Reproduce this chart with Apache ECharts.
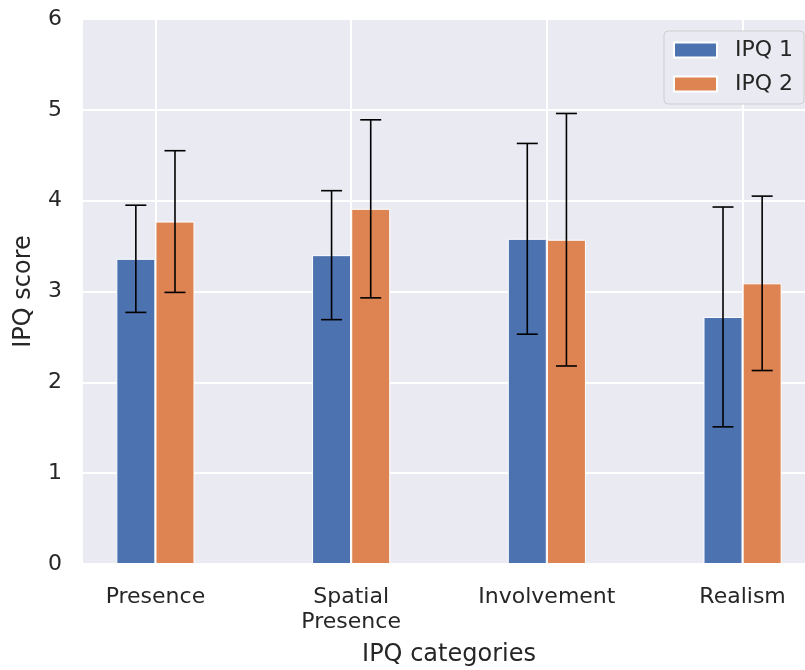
<!DOCTYPE html>
<html><head><meta charset="utf-8">
<script src="https://cdn.jsdelivr.net/npm/echarts@6/dist/echarts.min.js"></script>
<style>html,body{margin:0;padding:0;background:#fff}#c{width:805px;height:670px}</style>
</head><body><div id="c"></div>
<script>
// ---- data ----
const categories = ['Presence', 'Spatial\nPresence', 'Involvement', 'Realism'];
const seriesNames = ['IPQ 1', 'IPQ 2'];
const ipq1Mean = [3.36, 3.40, 3.58, 2.72];
const ipq1Sd   = [0.59, 0.71, 1.05, 1.21];
const ipq2Mean = [3.77, 3.91, 3.57, 3.09];
const ipq2Sd   = [0.78, 0.98, 1.39, 0.96];
const yTicks = [0, 1, 2, 3, 4, 5, 6];

// ---- style ----
const FONT = 'DejaVu Sans';
const TXT = '#262626';
const colors = ['#4C72B0', '#DD8452'];
const offsets = [-0.1, 0.1];
const means = [ipq1Mean, ipq2Mean];
const sds = [ipq1Sd, ipq2Sd];
const catIdx = categories.map((c, i) => i);

const chart = echarts.init(document.getElementById('c'), null, {renderer: 'canvas'});
const series = [];
means.forEach((m, s) => {
  series.push({
    name: seriesNames[s], type: 'bar', barWidth: 39, barGap: '-100%',
    itemStyle: {color: colors[s], borderColor: '#fff', borderWidth: 1},
    data: m.map((v, i) => [i + offsets[s], v]), z: 2, silent: true
  });
});
means.forEach((m, s) => {
  series.push({
    type: 'custom', z: 5, silent: true,
    encode: {x: 0, y: [1, 2]},
    data: m.map((v, i) => [i + offsets[s], v - sds[s][i], v + sds[s][i]]),
    renderItem: (params, api) => {
      const lo = api.coord([api.value(0), api.value(1)]);
      const hi = api.coord([api.value(0), api.value(2)]);
      const cw = 10.5;
      const st = {stroke: '#000', lineWidth: 1.6};
      return {type: 'group', children: [
        {type: 'line', shape: {x1: lo[0], y1: lo[1], x2: hi[0], y2: hi[1]}, style: st},
        {type: 'line', shape: {x1: lo[0] - cw, y1: lo[1], x2: lo[0] + cw, y2: lo[1]}, style: st},
        {type: 'line', shape: {x1: hi[0] - cw, y1: hi[1], x2: hi[0] + cw, y2: hi[1]}, style: st}
      ]};
    }
  });
});

chart.setOption({
  animation: false,
  textStyle: {fontFamily: FONT},
  grid: {left: 83, right: -10, top: 19, bottom: 106, show: true, backgroundColor: '#EAEAF2',
         borderWidth: 0, outerBoundsMode: 'none', containLabel: false},
  legend: {
    data: seriesNames, orient: 'vertical', left: 664, top: 31, icon: 'rect',
    itemWidth: 43, itemHeight: 15, itemGap: 12, padding: [8, 11, 9, 9],
    backgroundColor: '#EAEAF2', borderColor: '#cfcfcf', borderWidth: 1, borderRadius: 4,
    textStyle: {fontFamily: FONT, fontSize: 22, color: TXT, padding: [0, 0, 0, 13]}
  },
  xAxis: {
    type: 'value', min: -0.37, max: 3.37,
    name: 'IPQ categories', nameLocation: 'middle', nameGap: 79,
    nameTextStyle: {fontFamily: FONT, fontSize: 24, color: TXT},
    axisLine: {show: false},
    axisTick: {show: false, customValues: catIdx},
    axisLabel: {customValues: catIdx, formatter: v => categories[Math.round(v)],
                fontFamily: FONT, fontSize: 22, color: TXT, margin: 21, lineHeight: 25},
    splitLine: {show: true, lineStyle: {color: '#fff', width: 2}}
  },
  yAxis: {
    type: 'value', min: yTicks[0], max: yTicks[yTicks.length - 1], interval: 1,
    name: 'IPQ score', nameLocation: 'middle', nameGap: 47,
    nameTextStyle: {fontFamily: FONT, fontSize: 24, color: TXT},
    axisLine: {show: false}, axisTick: {show: false},
    axisLabel: {fontFamily: FONT, fontSize: 22, color: TXT, margin: 21},
    splitLine: {show: true, lineStyle: {color: '#fff', width: 2}}
  },
  series: series
});
</script></body></html>
